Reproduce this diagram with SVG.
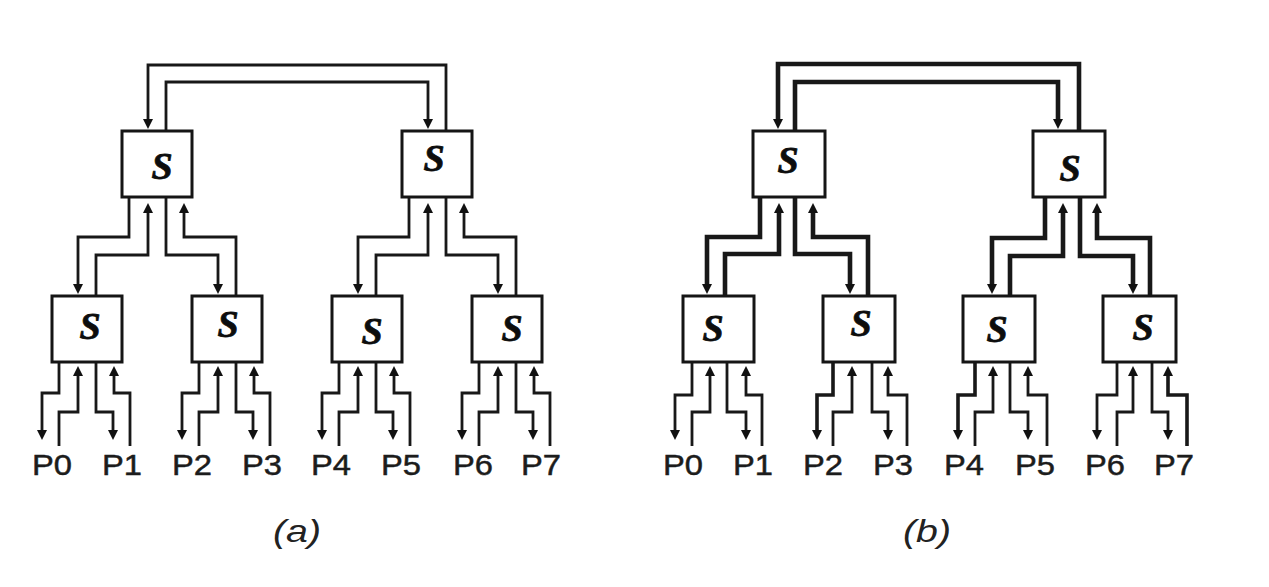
<svg xmlns="http://www.w3.org/2000/svg" width="1269" height="587" viewBox="0 0 1269 587">
  <style>
    .box { fill: #ffffff; stroke: #151515; stroke-width: 3; }
    .w { fill: none; stroke: #181818; stroke-width: 2.8; stroke-linejoin: miter; }
    .wm { stroke-width: 3.6; }
    .wb { stroke-width: 4.6; }
    .a { marker-end: url(#arr); }
    .s { font-family: "Liberation Serif", "Times New Roman", serif; font-weight: bold; font-style: italic; font-size: 38px; text-anchor: middle; fill: #0d0d0d; stroke: #0d0d0d; stroke-width: 0.8; }
    .lbl { font-family: "Liberation Sans", Arial, sans-serif; font-size: 30px; fill: #1c1c1c; stroke: #1c1c1c; stroke-width: 0.5; }
    .cap { font-family: "Liberation Sans", Arial, sans-serif; font-style: italic; font-size: 32px; fill: #222222; text-anchor: middle; }
  </style>
  <defs>
    <marker id="arr" viewBox="0 0 10 10" markerWidth="10" markerHeight="10" refX="1" refY="5" orient="auto" markerUnits="userSpaceOnUse">
      <path d="M0,0 L10,5 L0,10 z" fill="#111111"/>
    </marker>
  </defs>
  <rect width="1269" height="587" fill="#ffffff"/>

  <g id="connectors">
    <!-- (a) link between the two root switches -->
    <path class="w a" d="M446,131 V65 H148 V120"/>
    <path class="w a" d="M166,131 V82 H428 V120"/>
    <!-- (a) root-left to its children -->
    <path class="w a" d="M129,197 V237 H78 V285"/>
    <path class="w a" d="M96,296 V255 H148 V212"/>
    <path class="w a" d="M166,197 V255 H218 V285"/>
    <path class="w a" d="M236,296 V237 H184 V212"/>
    <!-- (a) root-right to its children -->
    <path class="w a" d="M409,197 V237 H358 V285"/>
    <path class="w a" d="M376,296 V255 H428 V212"/>
    <path class="w a" d="M446,197 V255 H498 V285"/>
    <path class="w a" d="M516,296 V237 H464 V212"/>
    <!-- (a) leaf switches to processors -->
    <path class="w a" d="M59,362 V393 H42 V431"/>
    <path class="w a" d="M59,446 V412 H78 V375"/>
    <path class="w a" d="M96,362 V412 H113 V431"/>
    <path class="w a" d="M130,446 V393 H114 V375"/>
    <path class="w a" d="M199,362 V393 H182 V431"/>
    <path class="w a" d="M199,446 V412 H218 V375"/>
    <path class="w a" d="M236,362 V412 H253 V431"/>
    <path class="w a" d="M270,446 V393 H254 V375"/>
    <path class="w a" d="M339,362 V393 H322 V431"/>
    <path class="w a" d="M339,446 V412 H358 V375"/>
    <path class="w a" d="M376,362 V412 H393 V431"/>
    <path class="w a" d="M410,446 V393 H394 V375"/>
    <path class="w a" d="M479,362 V393 H462 V431"/>
    <path class="w a" d="M479,446 V412 H498 V375"/>
    <path class="w a" d="M516,362 V412 H533 V431"/>
    <path class="w a" d="M550,446 V393 H534 V375"/>

    <!-- (b) fat links between the root switches -->
    <path class="w wb a" d="M1079,131 V64 H778 V120"/>
    <path class="w wb a" d="M795,131 V82 H1058 V120"/>
    <!-- (b) root-left to its children -->
    <path class="w wb a" d="M760,197 V237 H707 V285"/>
    <path class="w wb a" d="M725,296 V254 H779 V212"/>
    <path class="w wb a" d="M795,197 V254 H850 V285"/>
    <path class="w wb a" d="M868,296 V237 H813 V212"/>
    <!-- (b) root-right to its children -->
    <path class="w wb a" d="M1045,197 V238 H992 V285"/>
    <path class="w wb a" d="M1010,296 V256 H1063 V212"/>
    <path class="w wb a" d="M1080,197 V256 H1133 V285"/>
    <path class="w wb a" d="M1150,296 V238 H1097 V212"/>
    <!-- (b) leaf switches to processors -->
    <path class="w a" d="M692,362 V395 H675 V431"/>
    <path class="w a" d="M692,446 V412 H710 V375"/>
    <path class="w a" d="M727,362 V412 H746 V431"/>
    <path class="w a" d="M762,446 V395 H746 V375"/>
    <path class="w wm a" d="M833,362 V395 H817 V431"/>
    <path class="w a" d="M833,446 V412 H852 V375"/>
    <path class="w a" d="M872,362 V412 H888 V431"/>
    <path class="w a" d="M907,446 V395 H888 V375"/>
    <path class="w wm a" d="M975,362 V395 H958 V431"/>
    <path class="w a" d="M975,446 V412 H993 V375"/>
    <path class="w a" d="M1010,362 V412 H1028 V431"/>
    <path class="w a" d="M1047,446 V395 H1028 V375"/>
    <path class="w a" d="M1117,362 V395 H1097 V431"/>
    <path class="w a" d="M1117,446 V412 H1133 V375"/>
    <path class="w a" d="M1152,362 V412 H1168 V431"/>
    <path class="w wm a" d="M1187,446 V395 H1168 V375"/>
  </g>

  <!-- (a) switches -->
  <g id="a-root-left"><rect class="box" x="122" y="131" width="70" height="66"/><text class="s" x="162" y="179">S</text></g>
  <g id="a-root-right"><rect class="box" x="402" y="131" width="70" height="66"/><text class="s" x="434" y="171">S</text></g>
  <g id="a-leaf-0"><rect class="box" x="52" y="296" width="70" height="66"/><text class="s" x="90" y="339">S</text></g>
  <g id="a-leaf-1"><rect class="box" x="192" y="296" width="70" height="66"/><text class="s" x="228" y="337">S</text></g>
  <g id="a-leaf-2"><rect class="box" x="332" y="296" width="70" height="66"/><text class="s" x="372" y="344">S</text></g>
  <g id="a-leaf-3"><rect class="box" x="472" y="296" width="70" height="66"/><text class="s" x="512" y="341">S</text></g>

  <!-- (b) switches -->
  <g id="b-root-left"><rect class="box" x="753" y="131" width="72" height="66"/><text class="s" x="788" y="173">S</text></g>
  <g id="b-root-right"><rect class="box" x="1033" y="131" width="72" height="66"/><text class="s" x="1070" y="181">S</text></g>
  <g id="b-leaf-0"><rect class="box" x="683" y="296" width="71" height="66"/><text class="s" x="713" y="341">S</text></g>
  <g id="b-leaf-1"><rect class="box" x="823" y="296" width="72" height="66"/><text class="s" x="861" y="336">S</text></g>
  <g id="b-leaf-2"><rect class="box" x="963" y="296" width="72" height="66"/><text class="s" x="997" y="342">S</text></g>
  <g id="b-leaf-3"><rect class="box" x="1103" y="296" width="73" height="66"/><text class="s" x="1143" y="340">S</text></g>

  <!-- processor labels -->
  <g id="a-procs" class="lbl">
    <text x="32" y="475" textLength="40" lengthAdjust="spacingAndGlyphs">P0</text>
    <text x="102" y="475" textLength="40" lengthAdjust="spacingAndGlyphs">P1</text>
    <text x="172" y="475" textLength="40" lengthAdjust="spacingAndGlyphs">P2</text>
    <text x="242" y="475" textLength="40" lengthAdjust="spacingAndGlyphs">P3</text>
    <text x="311" y="475" textLength="40" lengthAdjust="spacingAndGlyphs">P4</text>
    <text x="381" y="475" textLength="40" lengthAdjust="spacingAndGlyphs">P5</text>
    <text x="453" y="475" textLength="40" lengthAdjust="spacingAndGlyphs">P6</text>
    <text x="521" y="475" textLength="40" lengthAdjust="spacingAndGlyphs">P7</text>
  </g>
  <g id="b-procs" class="lbl">
    <text x="663" y="475" textLength="40" lengthAdjust="spacingAndGlyphs">P0</text>
    <text x="733" y="475" textLength="40" lengthAdjust="spacingAndGlyphs">P1</text>
    <text x="803" y="475" textLength="40" lengthAdjust="spacingAndGlyphs">P2</text>
    <text x="873" y="475" textLength="40" lengthAdjust="spacingAndGlyphs">P3</text>
    <text x="944" y="475" textLength="40" lengthAdjust="spacingAndGlyphs">P4</text>
    <text x="1015" y="475" textLength="40" lengthAdjust="spacingAndGlyphs">P5</text>
    <text x="1085" y="475" textLength="40" lengthAdjust="spacingAndGlyphs">P6</text>
    <text x="1154" y="475" textLength="40" lengthAdjust="spacingAndGlyphs">P7</text>
  </g>

  <!-- captions -->
  <text class="cap" x="297" y="542" textLength="48" lengthAdjust="spacingAndGlyphs">(a)</text>
  <text class="cap" x="927" y="542" textLength="48" lengthAdjust="spacingAndGlyphs">(b)</text>
</svg>
